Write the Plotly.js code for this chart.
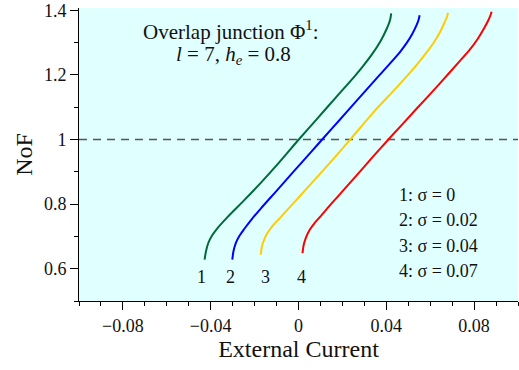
<!DOCTYPE html>
<html>
<head>
<meta charset="utf-8">
<script src="https://cdn.plot.ly/plotly-3.0.1.min.js"></script>
<style>html,body{margin:0;padding:0;background:#fff;}#chart{width:519px;height:370px;}</style>
</head>
<body>
<div id="chart"></div>
<script>
// Curve 1 (sigma = 0)
const x1 = [-0.04279, -0.04210, -0.04105, -0.03945, -0.03717, -0.03246, -0.02482, -0.01719, -0.00960, 0.00032, 0.00855, 0.01678, 0.02546, 0.02958, 0.03369, 0.03735, 0.04009, 0.04169, 0.04224];
const y1 = [0.6278, 0.6555, 0.6803, 0.7019, 0.7235, 0.7590, 0.8115, 0.8656, 0.9227, 1.0015, 1.0648, 1.1282, 1.1946, 1.2286, 1.2656, 1.3042, 1.3413, 1.3691, 1.3907];
// Curve 2 (sigma = 0.02)
const x2 = [-0.03017, -0.02958, -0.02853, -0.02688, -0.02482, -0.02117, -0.01719, -0.00960, -0.00197, 0.00567, 0.01129, 0.01861, 0.02775, 0.03689, 0.04603, 0.04923, 0.05175, 0.05358, 0.05472, 0.05518];
const y2 = [0.6278, 0.6555, 0.6803, 0.7019, 0.7220, 0.7544, 0.7862, 0.8440, 0.9027, 0.9607, 1.0037, 1.0596, 1.1294, 1.1992, 1.2690, 1.2981, 1.3259, 1.3506, 1.3707, 1.3846];
// Curve 3 (sigma = 0.04)
const x3 = [-0.01719, -0.01669, -0.01568, -0.01408, -0.01179, -0.00882, -0.00197, 0.00567, 0.01326, 0.02089, 0.02409, 0.03383, 0.04453, 0.05367, 0.05792, 0.06158, 0.06455, 0.06661, 0.06775, 0.06811];
const y3 = [0.6432, 0.6679, 0.6895, 0.7111, 0.7328, 0.7544, 0.8054, 0.8625, 0.9197, 0.9784, 1.0037, 1.0818, 1.1597, 1.2295, 1.2656, 1.2996, 1.3336, 1.3629, 1.3815, 1.3923];
// Curve 4 (sigma = 0.07)
const x4 = [0.00183, 0.00238, 0.00343, 0.00512, 0.00741, 0.01024, 0.01449, 0.01938, 0.02546, 0.03323, 0.04146, 0.05367, 0.06432, 0.07346, 0.07803, 0.08169, 0.08443, 0.08649, 0.08763, 0.08795];
const y4 = [0.6484, 0.6741, 0.6972, 0.7204, 0.7420, 0.7637, 0.7976, 0.8347, 0.8810, 0.9413, 1.0037, 1.0942, 1.1730, 1.2425, 1.2780, 1.3120, 1.3429, 1.3691, 1.3876, 1.3954];

// Reference line NoF = 1
const refX = [-0.1, 0.1];
const refY = [1, 1];

// Curve number labels
const curveLabels = ["1", "2", "3", "4"];
const curveLabelX = [-0.0444, -0.0312, -0.0151, 0.0014];
const curveLabelY = [0.575, 0.575, 0.575, 0.575];

// Legend texts
const legendTexts = ["1: σ = 0", "2: σ = 0.02", "3: σ = 0.04", "4: σ = 0.07"];
const legendX = 0.045;
const legendY = [0.829, 0.751, 0.669, 0.592];

// Title lines
const titleLines = ["Overlap junction Φ<sup>1</sup>:", "<i>l</i> = 7, <i>h<sub>e</sub></i> = 0.8"];
const titleX = [-0.0308, -0.0294];
const titleY = [1.338, 1.261];

const xRange = [-0.1, 0.1];
const yRange = [0.5, 1.407];
const xTickVals = [-0.08, -0.04, 0, 0.04, 0.08];
const yTickVals = [0.6, 0.8, 1, 1.2, 1.4];

const colors = ["#006a3a", "#0000ff", "#ffcc00", "#ff0000"];
const FONT = "'Liberation Serif', 'Times New Roman', serif";

const xs = [x1, x2, x3, x4], ys = [y1, y2, y3, y4];
const traces = [{
  x: refX, y: refY, mode: "lines", type: "scatter",
  line: {color: "#555555", width: 1.5, dash: "8px,6px"}, hoverinfo: "skip"
}];
for (let i = 0; i < 4; i++) {
  traces.push({
    x: xs[i], y: ys[i], mode: "lines", type: "scatter",
    line: {color: colors[i], width: 2, shape: "spline", smoothing: 0.8},
    hoverinfo: "skip"
  });
}

const annotations = [];
for (let i = 0; i < titleLines.length; i++) {
  annotations.push({x: titleX[i], y: titleY[i], xref: "x", yref: "y", text: titleLines[i],
    showarrow: false, xanchor: "center", yanchor: "middle", font: {family: FONT, size: 21, color: "#111"}});
}
for (let i = 0; i < curveLabels.length; i++) {
  annotations.push({x: curveLabelX[i], y: curveLabelY[i], xref: "x", yref: "y", text: curveLabels[i],
    showarrow: false, xanchor: "center", yanchor: "middle", font: {family: FONT, size: 18, color: "#111"}});
}
for (let i = 0; i < legendTexts.length; i++) {
  annotations.push({x: legendX, y: legendY[i], xref: "x", yref: "y", text: legendTexts[i],
    showarrow: false, xanchor: "left", yanchor: "middle", font: {family: FONT, size: 18, color: "#111"}});
}

const layout = {
  width: 519, height: 370,
  margin: {l: 79, r: 1, t: 8, b: 69, pad: 0},
  paper_bgcolor: "#ffffff",
  plot_bgcolor: "#e0ffff",
  showlegend: false,
  font: {family: FONT, size: 18, color: "#111"},
  xaxis: {
    range: xRange, tickvals: xTickVals, showgrid: false, zeroline: false,
    showline: true, linecolor: "#000", linewidth: 1,
    ticks: "outside", ticklen: 8, tickwidth: 1, tickcolor: "#000",
    minor: {dtick: 0.01, ticks: "outside", ticklen: 4, tickcolor: "#000", tickwidth: 1, showgrid: false},
    tickfont: {family: FONT, size: 18, color: "#111"},
    title: {text: "External Current", font: {family: FONT, size: 24, color: "#111"}, standoff: 4},
    automargin: false
  },
  yaxis: {
    range: yRange, tickvals: yTickVals, showgrid: false, zeroline: false,
    showline: true, linecolor: "#000", linewidth: 1,
    ticks: "outside", ticklen: 8, tickwidth: 1, tickcolor: "#000",
    minor: {dtick: 0.1, ticks: "outside", ticklen: 4, tickcolor: "#000", tickwidth: 1, showgrid: false},
    tickfont: {family: FONT, size: 18, color: "#111"},
    title: {text: "NoF", font: {family: FONT, size: 24, color: "#111"}, standoff: 4},
    automargin: false
  },
  annotations: annotations
};

Plotly.newPlot("chart", traces, layout, {staticPlot: true, displayModeBar: false});
</script>
</body>
</html>
